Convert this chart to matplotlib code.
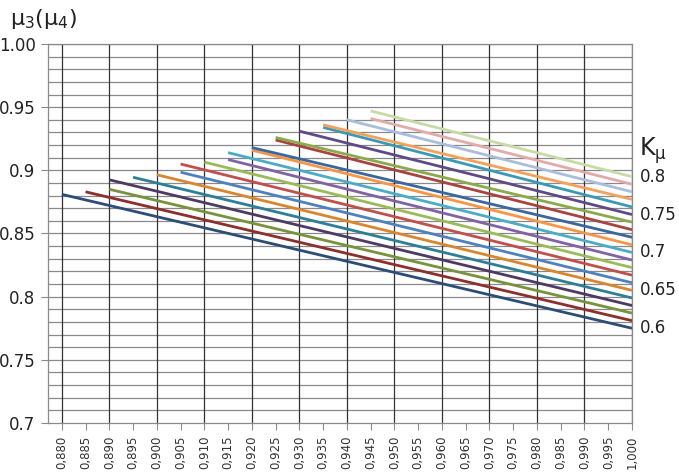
import numpy as np
import matplotlib
matplotlib.use('Agg')
import matplotlib.pyplot as plt
from matplotlib.ticker import MultipleLocator, FixedLocator, FuncFormatter

# K_mu values, one line per value
k_mu = [0.60, 0.61, 0.62, 0.63, 0.64, 0.65, 0.66, 0.67, 0.68, 0.69, 0.70,
        0.71, 0.72, 0.73, 0.74, 0.75, 0.76, 0.77, 0.78, 0.79, 0.80]
# first point of each line
x_start = [0.880, 0.885, 0.890, 0.890, 0.895, 0.900, 0.905, 0.905, 0.910, 0.915, 0.915,
           0.920, 0.920, 0.925, 0.925, 0.930, 0.935, 0.935, 0.940, 0.945, 0.945]
y_start = [0.881, 0.883, 0.885, 0.8925, 0.8945, 0.8965, 0.8985, 0.905, 0.9065, 0.9085, 0.914,
           0.916, 0.918, 0.924, 0.926, 0.931, 0.934, 0.936, 0.940, 0.941, 0.947]
# last point, all lines end at 1.000
x_end = 1.000
y_end = [0.775, 0.781, 0.787, 0.793, 0.799, 0.805, 0.811, 0.817, 0.823, 0.829, 0.835,
         0.841, 0.847, 0.853, 0.859, 0.865, 0.871, 0.877, 0.883, 0.889, 0.895]
labeled = [0.60, 0.65, 0.70, 0.75, 0.80]
label_txt = ['0.6', '0.65', '0.7', '0.75', '0.8']
y_ticks = [0.70, 0.75, 0.80, 0.85, 0.90, 0.95, 1.00]
y_ticklabels = ['0.7', '0.75', '0.8', '0.85', '0.9', '0.95', '1.00']

colors = ['#2C4D75', '#8C2F2D', '#77933C', '#4D3B62', '#2E7E96', '#D9862E',
          '#4F81BD', '#C0504D', '#9BBB59', '#8064A2', '#4BACC6', '#F79646',
          '#3B679E', '#A9433F', '#8AAA4B', '#604A85', '#3A9AB5', '#F2A25A',
          '#A9BEDC', '#E2AAA9', '#C8DAA5']

fig = plt.figure(figsize=(6.79, 4.72), dpi=100)
ax = fig.add_axes([0.0707, 0.1038, 0.8601, 0.803])

for k, kv in enumerate(k_mu):
    ax.plot([x_start[k], x_end], [y_start[k], y_end[k]], color=colors[k],
            lw=2.0, solid_capstyle='butt', zorder=3)

ax.set_xlim(0.8771, 1.0)
ax.set_ylim(0.70, 1.00)

ax.xaxis.set_major_locator(FixedLocator(np.round(np.arange(0.880, 1.0001, 0.005), 3)))
ax.xaxis.set_major_formatter(FuncFormatter(lambda v, p: f'{v:.3f}'.replace('.', ',')))
ax.yaxis.set_major_locator(FixedLocator(y_ticks))
ax.set_yticklabels(y_ticklabels)
ax.yaxis.set_minor_locator(MultipleLocator(0.01))

# grid: horizontal every 0.01, vertical every 0.01
for yv in np.arange(0.71, 1.0, 0.01):
    ax.axhline(yv, color='#8a8a8a', lw=0.9, zorder=1)
for xv in np.arange(0.880, 1.0001, 0.01):
    ax.axvline(xv, color='#333333', lw=0.9, zorder=1)

for s in ax.spines.values():
    s.set_color('#8a8a8a')
    s.set_linewidth(0.9)

ax.tick_params(axis='x', which='major', length=5, width=0.8, color='#8a8a8a',
               labelsize=8.5, labelrotation=90, labelcolor='#333333', pad=4)
ax.tick_params(axis='y', which='major', length=5, width=0.8, color='#8a8a8a',
               labelsize=12, labelcolor='#222222', pad=4)
ax.tick_params(axis='y', which='minor', length=0)

# labels at the right end of the lines
for kv, txt in zip(labeled, label_txt):
    i = k_mu.index(kv)
    ax.annotate(txt, xy=(x_end, y_end[i]), xytext=(6, 0), textcoords='offset points',
                ha='left', va='center', fontsize=12, color='#222222', annotation_clip=False)
ax.annotate(r'$\mathregular{K_{\mu}}$', xy=(x_end, 0.9155), xytext=(5, 0),
            textcoords='offset points', ha='left', va='center', fontsize=17,
            color='#222222', annotation_clip=False)

fig.text(0.015, 0.985, r'$\mathregular{\mu_3(\mu_4)}$', ha='left', va='top',
         fontsize=16, color='#222222')

fig.savefig('out.png', dpi=100)
